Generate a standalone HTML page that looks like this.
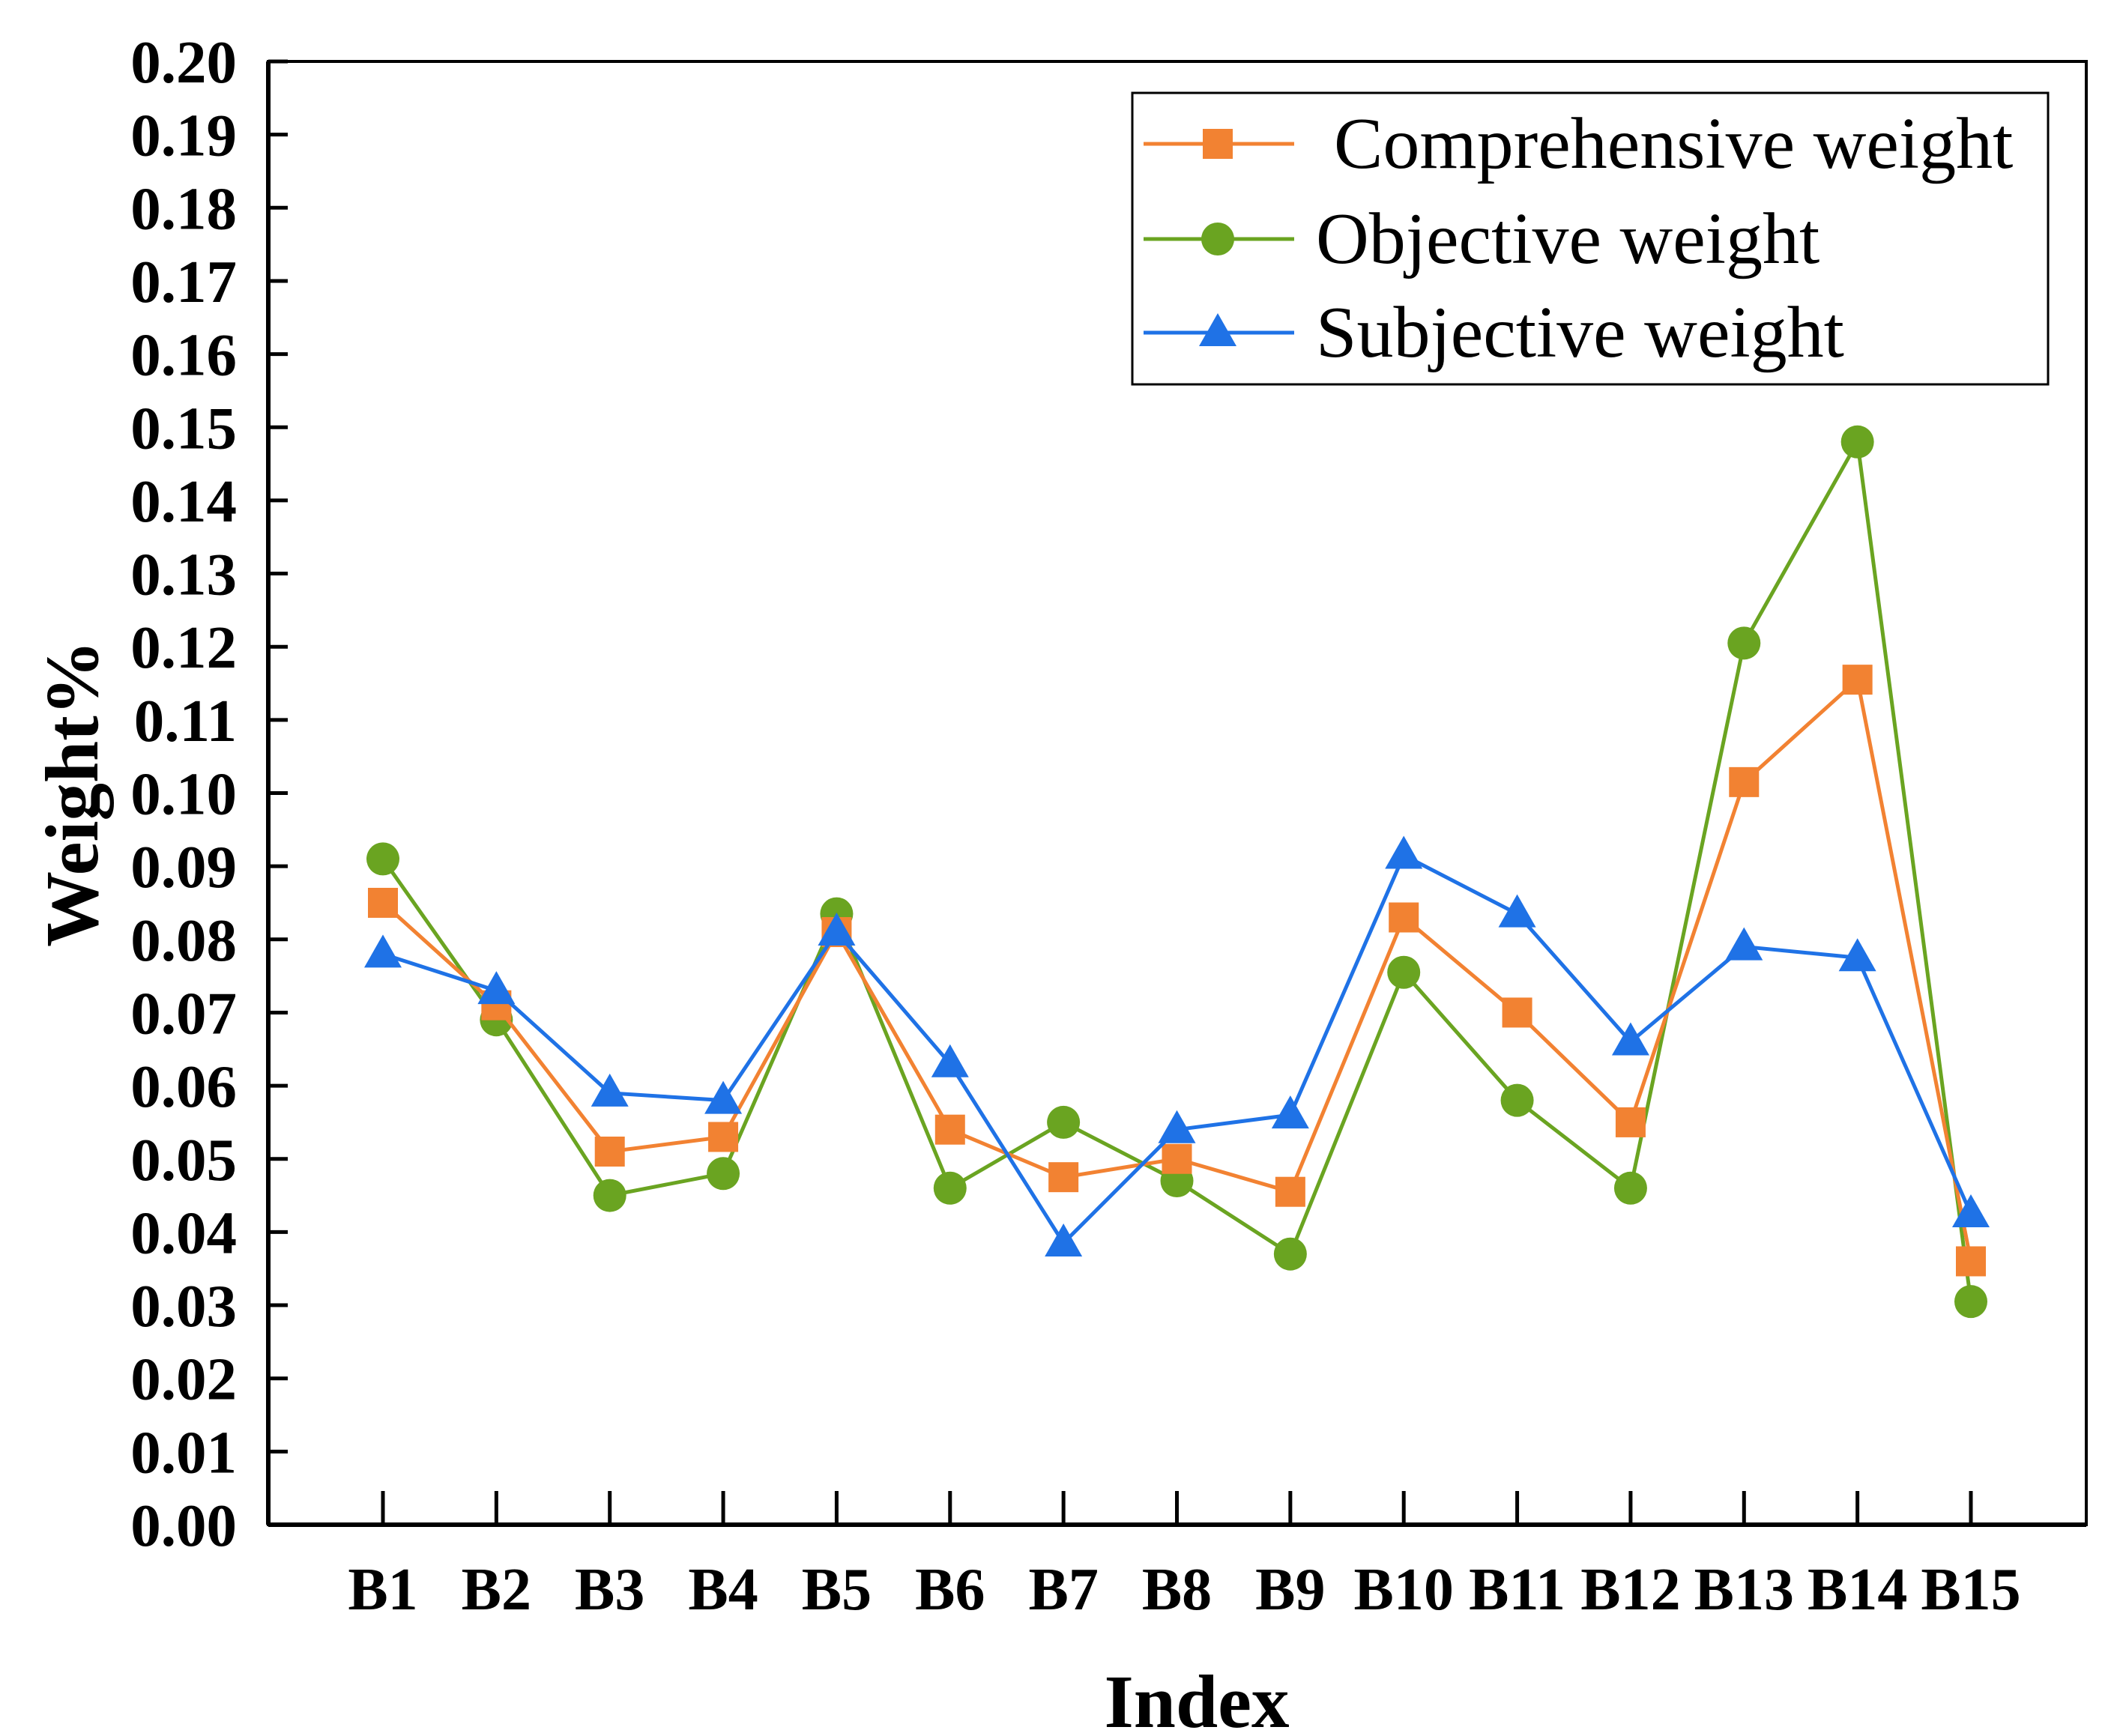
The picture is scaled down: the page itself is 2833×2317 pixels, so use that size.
<!DOCTYPE html>
<html><head><meta charset="utf-8"><style>
html,body{margin:0;padding:0;background:#fff;}
svg{display:block;}
</style></head><body>
<svg id="chart" width="2833" height="2317" viewBox="0 0 2833 2317" xmlns="http://www.w3.org/2000/svg">
<g id="axes"></g>
<g id="series"></g>
<g id="legend"></g>
</svg>
<script>
const categories = ["B1","B2","B3","B4","B5","B6","B7","B8","B9","B10","B11","B12","B13","B14","B15"];
const comprehensive = [0.085,0.071,0.051,0.053,0.081,0.054,0.0475,0.050,0.0455,0.083,0.070,0.055,0.1015,0.1155,0.036];
const objective = [0.091,0.069,0.045,0.048,0.0835,0.046,0.055,0.047,0.037,0.0755,0.058,0.046,0.1205,0.148,0.0305];
const subjective = [0.078,0.073,0.059,0.058,0.081,0.063,0.0385,0.054,0.056,0.0915,0.0835,0.066,0.079,0.0775,0.0425];
const yTicks = [0.00,0.01,0.02,0.03,0.04,0.05,0.06,0.07,0.08,0.09,0.10,0.11,0.12,0.13,0.14,0.15,0.16,0.17,0.18,0.19,0.20];
const seriesNames = ["Comprehensive weight","Objective weight","Subjective weight"];

const NS="http://www.w3.org/2000/svg";
const L=358,R=2784,T=82,B=2035;
const yMin=0,yMax=0.20;
function y(v){return B-(v-yMin)/(yMax-yMin)*(B-T);}
const x0=511,x1=2630;
function x(i){return x0+i*(x1-x0)/(categories.length-1);}
function mk(tag,attrs,parent){const e=document.createElementNS(NS,tag);for(const k in attrs)e.setAttribute(k,attrs[k]);parent.appendChild(e);return e;}
const axes=document.getElementById('axes'),ser=document.getElementById('series'),leg=document.getElementById('legend');
const FONT='"Liberation Serif", serif';

const frame=mk('rect',{x:L,y:T,width:R-L,height:B-T,fill:'none',stroke:'#000','stroke-width':4},axes);


const xa=mk('line',{x1:L,y1:B,x2:R,y2:B,stroke:'#000','stroke-width':6},axes);


const ya=mk('line',{x1:L,y1:T,x2:L,y2:B,stroke:'#000','stroke-width':6},axes);



yTicks.forEach(v=>{
  const t=mk('line',{x1:L,y1:y(v),x2:L+26,y2:y(v),stroke:'#000','stroke-width':5},axes);
  
  
  const lb=mk('text',{x:316,y:y(v)+28,'text-anchor':'end','font-family':FONT,'font-weight':'bold','font-size':81},axes);
  lb.textContent=v.toFixed(2);
  
  
});
categories.forEach((c,i)=>{
  const t=mk('line',{x1:x(i),y1:B,x2:x(i),y2:B-45,stroke:'#000','stroke-width':5},axes);
  
  
  const lb=mk('text',{x:x(i),y:2148,'text-anchor':'middle','font-family':FONT,'font-weight':'bold','font-size':80},axes);
  lb.textContent=c;
  
  
});
const xt=mk('text',{x:1597,y:2305,'text-anchor':'middle','font-family':FONT,'font-weight':'bold','font-size':101},axes);
xt.textContent='Index';


const yt=mk('text',{x:0,y:0,'text-anchor':'middle','font-family':FONT,'font-weight':'bold','font-size':101,transform:'translate(130,1059) rotate(-90)'},axes);
yt.textContent='Weight%';



function marker(kind,cx,cy,color,parent){
  let m;
  if(kind==='square'){m=mk('rect',{x:cx-20,y:cy-20,width:40,height:40,fill:color},parent);}
  else if(kind==='circle'){m=mk('circle',{cx:cx,cy:cy,r:22,fill:color},parent);}
  else {m=mk('polygon',{points:`${cx},${cy-26} ${cx+25},${cy+18} ${cx-25},${cy+18}`,fill:color},parent);}
  return m;
}
const defs=[
  {data:objective,color:'#6aa421',kind:'circle',name:'objective'},
  {data:comprehensive,color:'#f28232',kind:'square',name:'comprehensive'},
  {data:subjective,color:'#1f72e6',kind:'triangle',name:'subjective'}
];
defs.forEach(s=>{
  const g=mk('g',{},ser);
  
  
  const pts=s.data.map((v,i)=>x(i)+','+y(v)).join(' ');
  const pl=mk('polyline',{points:pts,fill:'none',stroke:s.color,'stroke-width':5},g);
  
  
  s.data.forEach((v,i)=>{
    const m=marker(s.kind,x(i),y(v),s.color,g);
    
    
  });
});

const lb=mk('rect',{x:1511,y:124,width:1222,height:389,fill:'#fff',stroke:'#000','stroke-width':3},leg);


const ly=[192,319,444],lx=[1780,1756,1756];
[defs[1],defs[0],defs[2]].forEach((s,k)=>{
  const g=mk('g',{},leg);
  
  
  mk('line',{x1:1526,y1:ly[k],x2:1727,y2:ly[k],stroke:s.color,'stroke-width':5},g);
  marker(s.kind,1625,ly[k],s.color,g);
  const t=mk('text',{x:lx[k],y:ly[k]+32,'font-family':FONT,'font-size':98},g);
  t.textContent=seriesNames[k];
});
</script>
</body></html>
